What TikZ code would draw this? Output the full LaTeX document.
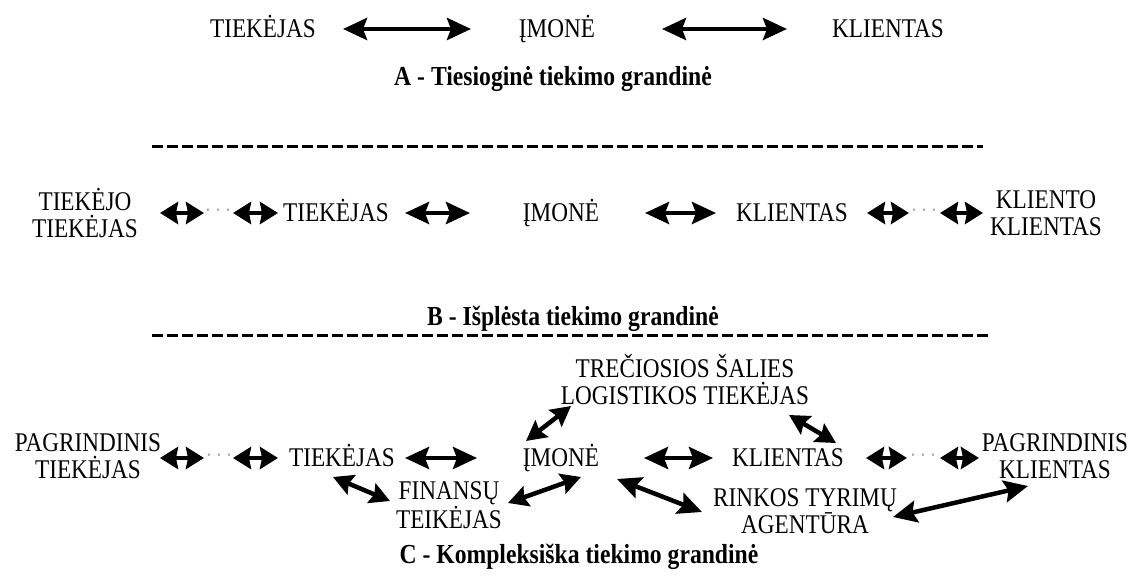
\documentclass[tikz,border=0pt]{standalone}
\usepackage{fontspec}
\setmainfont{Liberation Serif}[FakeStretch=0.86]
\usetikzlibrary{arrows.meta,calc}

\tikzset{
  lbl/.style={inner sep=0pt, font=\fontsize{27}{27}\selectfont, text height=18.5pt, text depth=1.3pt},
  lbltwo/.style={inner sep=0pt, align=center, font=\fontsize{27}{27}\selectfont},
  ttl/.style={inner sep=0pt, font=\fontsize{27.5}{30}\selectfont\bfseries},
  gap/.style={inner sep=0pt, text=gray!70, font=\fontsize{22}{22}\selectfont},
  bi/.style={line width=4.5pt, {Stealth[length=24pt,width=22pt,inset=4pt]}-{Stealth[length=24pt,width=22pt,inset=4pt]}},
  bimid/.style={line width=4.5pt, {Stealth[length=20pt,width=21pt,inset=3pt]}-{Stealth[length=20pt,width=21pt,inset=3pt]}},
  bishort/.style={line width=4pt, {Stealth[length=18pt,width=22pt,inset=2pt]}-{Stealth[length=18pt,width=22pt,inset=2pt]}},
  sep/.style={line width=3pt, dash pattern=on 11pt off 4pt}
}

\begin{document}
\begin{tikzpicture}[x=1pt,y=-1pt]
\useasboundingbox (0,0) rectangle (1133,577);
% A - direct chain
\node[lbl] (tA) at (263,29) {TIEKĖJAS};
\node[lbl] (iA) at (557,29) {ĮMONĖ};
\node[lbl] (kA) at (888,29) {KLIENTAS};
\draw[bi, shorten <=80pt, shorten >=86pt] (tA.center) -- (iA.center);
\draw[bi, shorten <=105pt, shorten >=101pt] (iA.center) -- (kA.center);
\node[ttl] (ttlA) at (553,79) {A - Tiesioginė tiekimo grandinė};
\draw[sep] (152,147) -- (983,147);

% B - extended chain
\node[lbltwo] (ttB) at (85,213) {TIEKĖJO\\TIEKĖJAS};
\node[gap] (gB1) at (218,213) {·\,·\,·};
\node[lbl] (tB) at (336,213) {TIEKĖJAS};
\node[lbl] (iB) at (561,213) {ĮMONĖ};
\node[lbl] (kB) at (792,213) {KLIENTAS};
\node[gap] (gB2) at (924,213) {·\,·\,·};
\node[lbltwo] (kkB) at (1046,213) {KLIENTO\\KLIENTAS};
\draw[bishort, shorten <=75pt, shorten >=14pt] (ttB.center |- gB1.center) -- (gB1.center);
\draw[bishort, shorten <=15pt, shorten >=58pt] (gB1.center) -- (tB.center);
\draw[bi, shorten <=69pt, shorten >=91pt] (tB.center) -- (iB.center);
\draw[bi, shorten <=84pt, shorten >=76pt] (iB.center) -- (kB.center);
\draw[bishort, shorten <=75pt, shorten >=15pt] (kB.center) -- (gB2.center);
\draw[bishort, shorten <=16pt, shorten >=63pt] (gB2.center) -- (kkB.center |- gB2.center);
\node[ttl] (ttlB) at (573,319) {B - Išplėsta tiekimo grandinė};
\draw[sep] (152,336) -- (990,336);

% C - complex chain
\node[lbltwo] (lg) at (685,380) {TREČIOSIOS ŠALIES\\LOGISTIKOS TIEKĖJAS};
\node[lbltwo] (ptC) at (88,456) {PAGRINDINIS\\TIEKĖJAS};
\node[gap] (gC1) at (219,458) {·\,·\,·};
\node[lbl] (tC) at (342,458) {TIEKĖJAS};
\node[lbl] (iC) at (561,458) {ĮMONĖ};
\node[lbl] (kC) at (788,458) {KLIENTAS};
\node[gap] (gC2) at (923,458) {·\,·\,·};
\node[lbltwo] (pkC) at (1055,456) {PAGRINDINIS\\KLIENTAS};
\node[lbltwo] (fin) at (449,505) {FINANSŲ\\TEIKĖJAS};
\node[lbltwo] (rk) at (805,511) {RINKOS TYRIMŲ\\AGENTŪRA};
\draw[bishort, shorten <=72pt, shorten >=15pt] (ptC.center |- gC1.center) -- (gC1.center);
\draw[bishort, shorten <=14pt, shorten >=64pt] (gC1.center) -- (tC.center);
\draw[bi, shorten <=63pt, shorten >=84pt] (tC.center) -- (iC.center);
\draw[bi, shorten <=83pt, shorten >=75pt] (iC.center) -- (kC.center);
\draw[bishort, shorten <=78pt, shorten >=16pt] (kC.center) -- (gC2.center);
\draw[bishort, shorten <=17pt, shorten >=76pt] (gC2.center) -- (pkC.center |- gC2.center);
\draw[bimid] ($(tC)+(-9,19)$) -- ($(fin)+(-59,-4)$);
\draw[bimid] ($(fin)+(59,-2)$) -- ($(iC)+(20,19)$);
\draw[bimid] ($(iC)+(-35,-17)$) -- ($(lg)+(-114,26)$);
\draw[bimid] ($(lg)+(104,35)$) -- ($(kC)+(48,-15)$);
\draw[bi] ($(iC)+(56,21)$) -- ($(rk)+(-103,1)$);
\draw[bi] ($(rk)+(88,6)$) -- ($(pkC)+(-27,30)$);
\node[ttl] (ttlC) at (579,557) {C - Kompleksiška tiekimo grandinė};
\end{tikzpicture}
\end{document}
